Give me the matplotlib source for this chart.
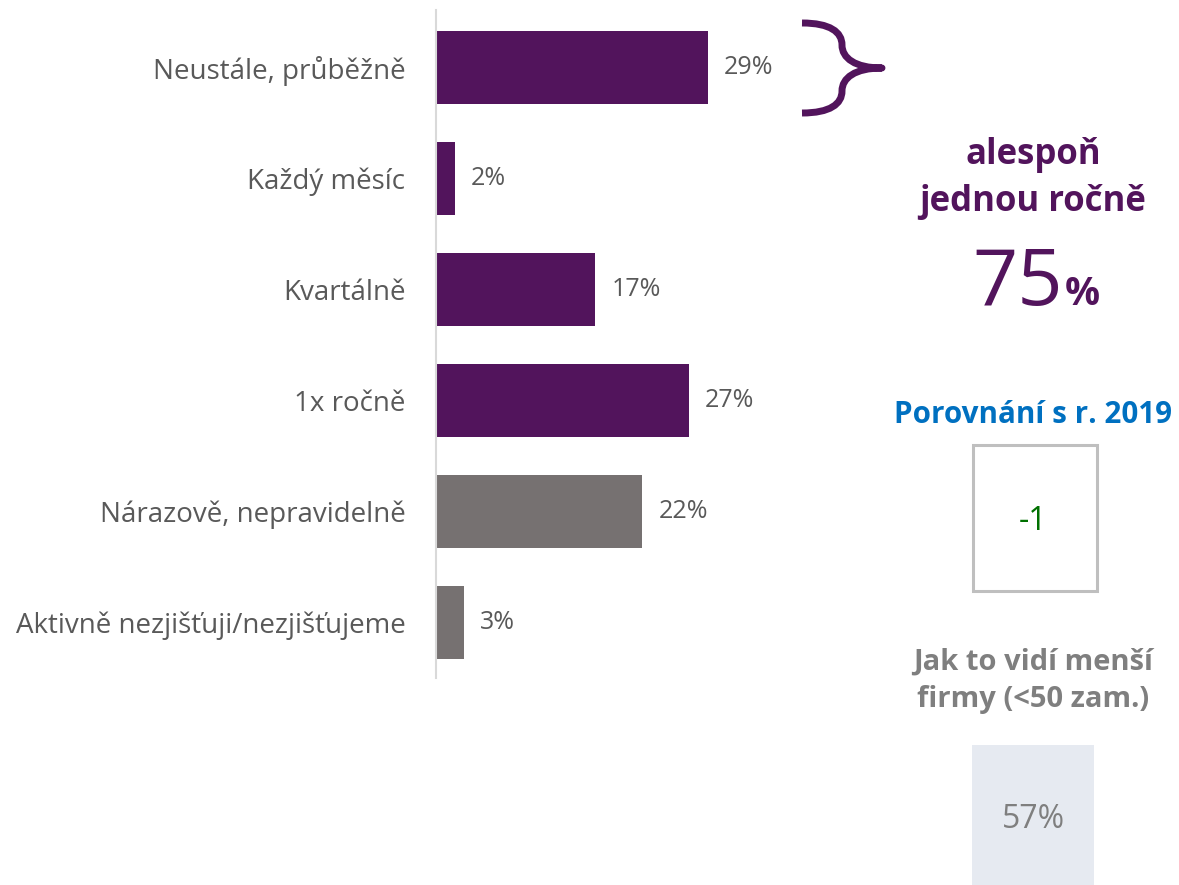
import matplotlib
matplotlib.use("Agg")
import matplotlib.pyplot as plt
from matplotlib.path import Path
from matplotlib.patches import PathPatch, Rectangle

# Survey answers: how often the company checks the topic
categories = [
    "Neustále, průběžně",
    "Každý měsíc",
    "Kvartálně",
    "1x ročně",
    "Nárazově, nepravidelně",
    "Aktivně nezjišťuji/nezjišťujeme",
]
values = [29, 2, 17, 27, 22, 3]
regular = [True, True, True, True, False, False]

at_least_yearly = 75
change_vs_2019 = -1
small_firms = 57

PURPLE = "#52145C"
GREY_BAR = "#767171"
TEXT = "#595959"
BLUE = "#0070C0"
GREEN = "#007000"
LIGHT = "#E6EAF1"

W, H = 1179, 885
fig = plt.figure(figsize=(W / 100, H / 100), dpi=100)

# Bar chart
ax = fig.add_axes([436 / W, 1 - 678 / H, (880 - 436) / W, (678 - 10) / H])
ypos = list(range(len(categories)))
colors = [PURPLE if r else GREY_BAR for r in regular]
ax.barh(ypos, values, height=0.655, color=colors)
ax.set_xlim(0, (880 - 436) / 9.38)
ax.set_ylim(5.5, -0.515)
for s in ["top", "right", "bottom"]:
    ax.spines[s].set_visible(False)
ax.spines["left"].set_color("#D9D9D9")
ax.spines["left"].set_linewidth(1.5)
ax.set_xticks([])
ax.set_yticks(ypos)
ax.set_yticklabels(categories, fontsize=20, color=TEXT, family="Open Sans")
ax.tick_params(axis="y", length=0, pad=22)
for y, v in zip(ypos, values):
    ax.text(v + 1.7, y, f"{v}%", va="center", ha="left", fontsize=18,
            color=TEXT, family="Open Sans")

# Overlay in pixel coordinates for the side panel
ov = fig.add_axes([0, 0, 1, 1])
ov.set_xlim(0, W)
ov.set_ylim(H, 0)
ov.axis("off")

# Curly brace next to the first bar
verts = [
    (802, 23), (830, 23), (842, 32), (842, 45),
    (842, 58), (855, 68), (882, 68),
    (855, 68), (842, 78), (842, 91),
    (842, 104), (830, 113), (802, 113),
]
codes = [Path.MOVETO] + [Path.CURVE4] * 6 + [Path.CURVE4] * 6
ov.add_patch(PathPatch(Path(verts, codes), fill=False, edgecolor=PURPLE,
                       lw=5, capstyle="butt", joinstyle="round"))

cx = 1033
ov.text(cx, 155, "alespoň", ha="center", va="center", fontsize=25,
        fontweight="bold", color=PURPLE, family="Open Sans")
ov.text(cx, 202, "jednou ročně", ha="center", va="center", fontsize=25,
        fontweight="bold", color=PURPLE, family="Open Sans")
ov.text(1063, 305, f"{at_least_yearly}", ha="right", va="baseline",
        fontsize=57, color=PURPLE, family="Open Sans")
ov.text(1065, 305, "%", ha="left", va="baseline", fontsize=28,
        fontweight="bold", color=PURPLE, family="Open Sans")

ov.text(cx, 415, "Porovnání s r. 2019", ha="center", va="center",
        fontsize=21.3, fontweight="bold", color=BLUE, family="Open Sans")
ov.add_patch(Rectangle((973, 445), 124, 146, fill=False,
                       edgecolor="#BFBFBF", lw=2.2))
ov.text(cx, 522, f"{change_vs_2019}", ha="center", va="center",
        fontsize=23, color=GREEN, family="Open Sans")

ov.text(cx, 662, "Jak to vidí menší", ha="center", va="center",
        fontsize=21, fontweight="bold", color="#7F7F7F", family="Open Sans")
ov.text(cx, 700, "firmy (<50 zam.)", ha="center", va="center",
        fontsize=21, fontweight="bold", color="#7F7F7F", family="Open Sans")
ov.add_patch(Rectangle((972, 745), 122, 140, facecolor=LIGHT,
                       edgecolor="none"))
ov.text(cx, 820, f"{small_firms}%", ha="center", va="center",
        fontsize=23, color="#7F7F7F", family="Open Sans")

fig.savefig("out.png", dpi=100)
